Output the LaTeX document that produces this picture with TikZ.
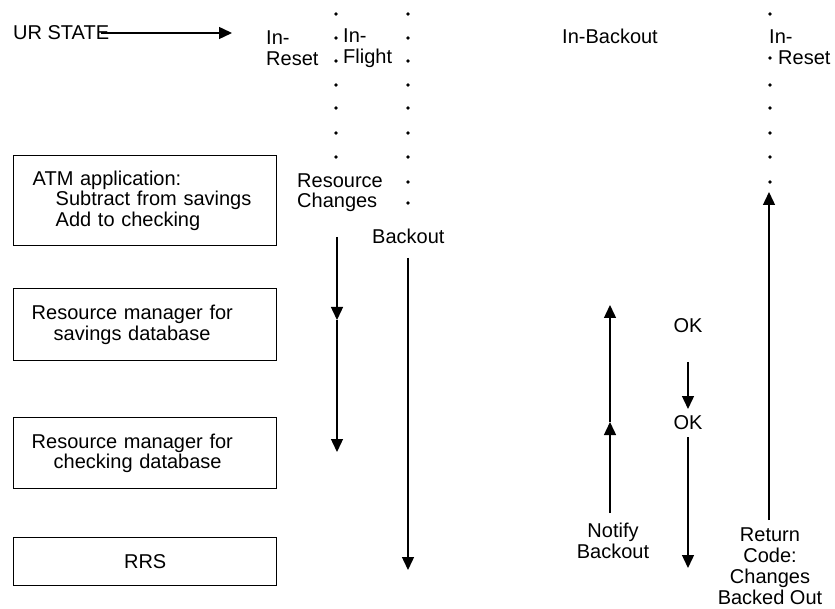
\documentclass[tikz,border=0pt]{standalone}
\usepackage{fontspec}
\setmainfont{Liberation Sans}
\usetikzlibrary{arrows.meta}
\begin{document}
\begin{tikzpicture}[x=1pt,y=-1pt,
  txt/.style={inner sep=0pt, font=\fontsize{20}{20.5}\selectfont},
  box/.style={draw, line width=1.4pt, inner ysep=0pt, align=left, anchor=north west,
    minimum width=263pt, font=\fontsize{20}{20.5}\selectfont},
  arr/.style={line width=1.4pt, -{Triangle[width=12pt,length=13pt]}},
  dotm/.style={circle, fill, inner sep=0pt, minimum size=3.6pt}]
\useasboundingbox (0,0) rectangle (835,609);
% header labels
\node[txt, anchor=west] (ur) at (13,33) {UR STATE};
\coordinate (urs) at (101,33);
\coordinate (ure) at (232,33);
\draw[arr] (urs) -- (ure);
\node[txt, anchor=west, align=left] (inreset) at (266,48) {In-\\Reset};
\node[txt, anchor=west, align=left] (inflight) at (343,48) {In-\\Flight};
\node[txt, anchor=west] (inbackout) at (562,36) {In-Backout};
\node[txt, anchor=west, align=left] (inreset2) at (769,47) {In-\\\hspace*{9pt}Reset};
% dotted columns
\foreach \y in {14,38,61,85,108,133,157} \node[dotm] at (336,\y) {};
\foreach \y in {14,38,61,85,108,133,157,182,203} \node[dotm] at (408,\y) {};
\foreach \y in {14,58,85,108,133,157,182} \node[dotm] at (770,\y) {};
% boxes
\node[box, inner xsep=19pt, text width=225pt, minimum height=90pt] (atm) at (13,155)
  {ATM application:\\\hspace*{23pt}Subtract from savings\\\hspace*{23pt}Add to checking};
\node[box, inner xsep=18pt, text width=227pt, minimum height=72pt] (rms) at (13,288)
  {Resource manager for\\\hspace*{22pt}savings database};
\node[box, inner xsep=18pt, text width=227pt, minimum height=71pt] (rmc) at (13,417)
  {Resource manager for\\\hspace*{22pt}checking database};
\node[box, inner xsep=18pt, text width=227pt, minimum height=48pt, align=center] (rrs) at (13,537)
  {RRS};
% labels
\node[txt, anchor=west, align=left] (resch) at (297,192.5) {Resource\\Changes};
\node[txt, anchor=west] (backout) at (372,236) {Backout};
\node[txt, align=center] (notify) at (613,541) {Notify\\Backout};
\node[txt] (ok1) at (688,326) {OK};
\node[txt] (ok2) at (688,423) {OK};
\node[txt, align=center, font=\fontsize{20}{21}\selectfont] (retc) at (770,566.5)
  {Return\\Code:\\Changes\\Backed Out};
% arrows
\coordinate (a1t) at (337,237);
\coordinate (a1m) at (337,320);
\coordinate (a1b) at (337,452);
\draw[arr] (a1t) -- (a1m);
\draw[arr] (a1m) -- (a1b);
\coordinate (a2t) at (408,258);
\coordinate (a2b) at (408,570);
\draw[arr] (a2t) -- (a2b);
\coordinate (nb) at (610,513);
\coordinate (nm) at (610,422);
\coordinate (nt) at (610,305);
\draw[arr] (nb) -- (nm);
\draw[arr] (nm) -- (nt);
\coordinate (o1s) at (688,362);
\coordinate (o1e) at (688,409);
\draw[arr] (o1s) -- (o1e);
\coordinate (o2s) at (688,437);
\coordinate (o2e) at (688,568);
\draw[arr] (o2s) -- (o2e);
\coordinate (rb) at (769,520);
\coordinate (rt) at (769,192);
\draw[arr] (rb) -- (rt);
\end{tikzpicture}
\end{document}
